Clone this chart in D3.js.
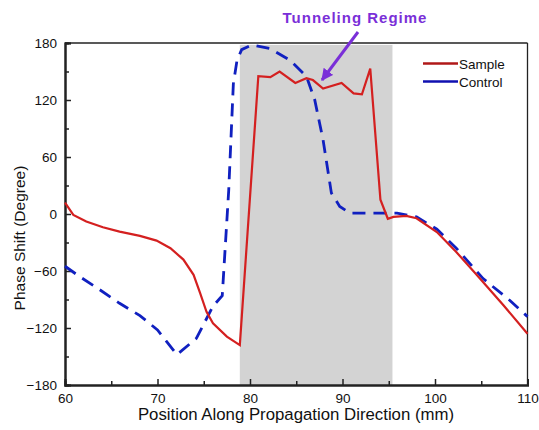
<!DOCTYPE html>
<html><head><meta charset="utf-8">
<script src="https://cdn.jsdelivr.net/npm/d3@7"></script>
<style>body{margin:0;background:#fff}svg{display:block}text{font-family:"Liberation Sans",Arial,sans-serif}</style>
</head><body>
<script>
const sampleX = [60,60.9,62.3,64.1,65.9,68.1,69.9,71.4,72.8,73.9,74.6,75.3,76,77.5,78.9,80.9,82.2,83.2,84.9,86.1,86.8,87.9,89.9,91.2,92.1,93,94.1,94.9,95.5,96.9,98,100.2,102.3,104.5,107.4,110];
const sampleY = [12,-1,-8,-14,-18.5,-23,-28,-36,-48,-64,-83,-103,-115,-129,-138,145,144,150,138,143,141,132,138,127,126,153,15,-5,-3,-2,-4.5,-19,-40,-64,-96,-126];
const controlX = [60,61.6,63.8,65.9,68.1,70,72.1,74.2,76,77,77.7,78.2,78.6,79.1,80.2,82.2,84.3,86.1,87,87.9,88.8,89.7,90.8,93,95.9,98,100.2,102.3,105.2,108.1,110];
const controlY = [-55,-66,-80,-94,-107,-122,-148,-131,-97,-86,25,137,162,173,178,174,162,145,120,78,22,8,1,1,1,-3,-16,-36,-68,-91,-108];
const xTicks = [60,70,80,90,100,110];
const xMinor = [65,75,85,95,105];
const yTicks = [-180,-120,-60,0,60,120,180];
const yMinor = [-150,-90,-30,30,90,150];
const regime = [78.9,95.4];
const legendLabels = ["Sample","Control"];

const W=539,H=430;
const svg=d3.select("body").append("svg").attr("width",W).attr("height",H);
const x=d3.scaleLinear().domain([60,110]).range([65,527.5]);
const y=d3.scaleLinear().domain([-180,180]).range([385,43]);

// shaded region
svg.append("rect").attr("x",x(regime[0])).attr("y",y(178)).attr("width",x(regime[1])-x(regime[0])).attr("height",y(-180)-y(178)).attr("fill","#d3d3d3");

// frame top/right
svg.append("line").attr("x1",x(60)).attr("x2",x(110)).attr("y1",y(180)).attr("y2",y(180)).attr("stroke","#222").attr("stroke-width",1.3);
svg.append("line").attr("x1",x(110)).attr("x2",x(110)).attr("y1",y(180)).attr("y2",y(-180)).attr("stroke","#222").attr("stroke-width",1.3);

// axes
const xa=svg.append("g").attr("transform",`translate(0,${y(-180)})`)
  .call(d3.axisBottom(x).tickValues(xTicks).tickSize(-6).tickPadding(8).tickFormat(d3.format("d")));
const xm=svg.append("g").attr("transform",`translate(0,${y(-180)})`)
  .call(d3.axisBottom(x).tickValues(xMinor).tickSize(-4).tickFormat(""));
const ya=svg.append("g").attr("transform",`translate(${x(60)},0)`)
  .call(d3.axisLeft(y).tickValues(yTicks).tickSize(-6).tickPadding(8).tickFormat(d3.format("d")));
const ym=svg.append("g").attr("transform",`translate(${x(60)},0)`)
  .call(d3.axisLeft(y).tickValues(yMinor).tickSize(-4).tickFormat(""));
[xa,xm,ya,ym].forEach(g=>{
  g.select(".domain").attr("stroke","#222").attr("stroke-width",2);
  g.selectAll(".tick line").attr("stroke","#222").attr("stroke-width",1.5);
  g.selectAll("text").attr("font-size",13.5).attr("fill","#111");
});

const line=d3.line().x(d=>x(d[0])).y(d=>y(d[1])).curve(d3.curveLinear);
svg.append("path").datum(controlX.map((v,i)=>[v,controlY[i]])).attr("d",line)
  .attr("fill","none").attr("stroke","#1020c0").attr("stroke-width",2.8).attr("stroke-dasharray","13,8");
svg.append("path").datum(sampleX.map((v,i)=>[v,sampleY[i]])).attr("d",line)
  .attr("fill","none").attr("stroke","#d42020").attr("stroke-width",2.2);

// legend
const lgColors=["#b01818","#1010b0"];
legendLabels.forEach((d,i)=>{
  svg.append("line").attr("x1",423).attr("x2",458).attr("y1",63.5+i*18).attr("y2",63.5+i*18).attr("stroke",lgColors[i]).attr("stroke-width",2.5);
  svg.append("text").attr("x",459).attr("y",68.5+i*18).attr("font-size",13.5).attr("fill","#111").text(d);
});

// axis titles
svg.append("text").attr("x",296).attr("y",420).attr("text-anchor","middle").attr("font-size",16.8).attr("fill","#111").text("Position Along Propagation Direction (mm)");
svg.append("text").attr("transform","translate(25,238) rotate(-90)").attr("text-anchor","middle").attr("font-size",15.5).attr("fill","#111").text("Phase Shift (Degree)");

// annotation
svg.append("text").attr("x",355).attr("y",23).attr("text-anchor","middle").attr("font-size",15).attr("font-weight","bold").attr("letter-spacing",1).attr("fill","#7a2fd8").text("Tunneling Regime");
const defs=svg.append("defs");
defs.append("marker").attr("id","ah").attr("viewBox","0 0 10 10").attr("refX",9).attr("refY",5).attr("markerWidth",4).attr("markerHeight",4).attr("orient","auto")
  .append("path").attr("d","M0,0L10,5L0,10z").attr("fill","#7a2fd8");
svg.append("line").attr("x1",358).attr("y1",32).attr("x2",322).attr("y2",80).attr("stroke","#7a2fd8").attr("stroke-width",3).attr("marker-end","url(#ah)");
</script>
</body></html>
